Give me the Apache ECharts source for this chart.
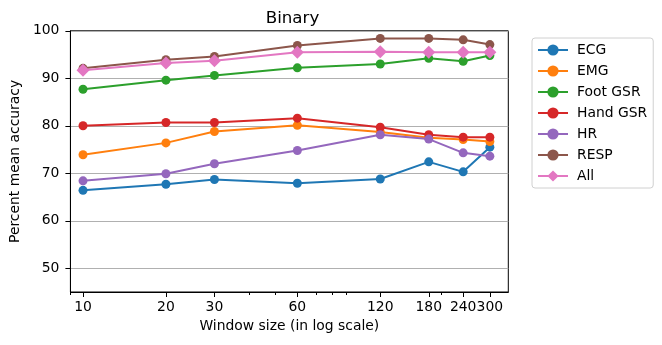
<!DOCTYPE html>
<html>
<head>
<meta charset="utf-8">
<script src="https://cdn.jsdelivr.net/npm/echarts@6/dist/echarts.min.js"></script>
<style>html,body{margin:0;padding:0;background:#fff;}#c{width:662px;height:345px;}</style>
</head>
<body>
<div id="c"></div>
<script>
var windows = [10, 20, 30, 60, 120, 180, 240, 300];
var xTickLabels = [10, 20, 30, 60, 120, 180, 240, 300];
var xMinorTicks = [9, 40, 50, 70, 80, 90, 200];
var yTickLabels = [50, 60, 70, 80, 90, 100];
var seriesNames = ['ECG', 'EMG', 'Foot GSR', 'Hand GSR', 'HR', 'RESP', 'All'];
var ecg     = [66.4, 67.7, 68.7, 67.9, 68.8, 72.4, 70.3, 75.5];
var emg     = [73.9, 76.4, 78.8, 80.1, 78.7, 77.5, 77.1, 76.7];
var footGsr = [87.7, 89.6, 90.6, 92.2, 93.0, 94.2, 93.6, 94.8];
var handGsr = [80.0, 80.7, 80.7, 81.6, 79.7, 78.1, 77.6, 77.6];
var hr      = [68.4, 69.9, 72.0, 74.8, 78.1, 77.2, 74.3, 73.6];
var resp    = [92.1, 93.9, 94.6, 96.9, 98.4, 98.4, 98.1, 97.1];
var allMods = [91.7, 93.2, 93.7, 95.5, 95.6, 95.5, 95.5, 95.5];
var colors = ['#1f77b4', '#ff7f0e', '#2ca02c', '#d62728', '#9467bd', '#8c564b', '#e377c2'];

var values = [ecg, emg, footGsr, handGsr, hr, resp, allMods];
var FONT = 'DejaVu Sans';

function pairs(v) {
  return windows.map(function (w, i) { return [w, v[i]]; });
}

var series = seriesNames.map(function (name, k) {
  var isAll = name === 'All';
  return {
    name: name,
    type: 'line',
    xAxisIndex: 0,
    data: pairs(values[k]),
    symbol: isAll ? 'diamond' : 'circle',
    symbolSize: isAll ? 13 : 9,
    showSymbol: true,
    lineStyle: { color: colors[k], width: 2 },
    itemStyle: { color: colors[k], borderWidth: 0 },
    emphasis: { disabled: true },
    animation: false,
    z: 2 + k
  };
});

var chart = echarts.init(document.getElementById('c'), null, { renderer: 'canvas' });
chart.setOption({
  animation: false,
  backgroundColor: '#fff',
  textStyle: { fontFamily: FONT },
  title: {
    text: 'Binary',
    left: 287.5,
    textAlign: 'center',
    top: 5,
    textStyle: { fontFamily: FONT, fontSize: 16.7, fontWeight: 'normal', color: '#000' }
  },
  grid: {
    left: 66.7, top: 30.8, right: 153.7, bottom: 53,
    show: true, borderColor: '#000', borderWidth: 1, backgroundColor: 'transparent'
  },
  legend: {
    orient: 'vertical',
    left: 532, top: 38,
    padding: [5, 6, 5, 5],
    itemWidth: 30, itemHeight: 14, itemGap: 7,
    borderColor: '#d0d0d0', borderWidth: 1, borderRadius: 3,
    backgroundColor: '#fff',
    textStyle: { fontFamily: FONT, fontSize: 13.9, color: '#000', padding: [0, 0, 0, 4] },
    data: seriesNames
  },
  xAxis: [{
    type: 'log',
    logBase: 10,
    min: 9, max: 350,
    name: 'Window size (in log scale)',
    nameLocation: 'middle',
    nameGap: 27,
    nameTextStyle: { fontFamily: FONT, fontSize: 13.9, color: '#000' },
    axisLine: { show: true, lineStyle: { color: '#000', width: 1 } },
    axisTick: { show: true, inside: false, length: 5, customValues: xTickLabels, lineStyle: { color: '#000' } },
    axisLabel: { show: true, margin: 8, customValues: xTickLabels, fontFamily: FONT, fontSize: 13.9, color: '#000',
      formatter: function (v) { return String(Math.round(v)); } },
    splitLine: { show: false },
    minorTick: { show: false },
    minorSplitLine: { show: false }
  }, {
    type: 'log',
    logBase: 10,
    min: 9, max: 350,
    position: 'bottom',
    offset: 0,
    axisLine: { show: false },
    axisTick: { show: true, length: 3, customValues: xMinorTicks, lineStyle: { color: '#000' } },
    axisLabel: { show: false },
    splitLine: { show: false }
  }],
  yAxis: {
    type: 'value',
    min: 45, max: 100,
    name: 'Percent mean accuracy',
    nameLocation: 'middle',
    nameGap: 44,
    nameTextStyle: { fontFamily: FONT, fontSize: 13.9, color: '#000' },
    axisLine: { show: true, lineStyle: { color: '#000', width: 1 } },
    axisTick: { show: true, length: 5, customValues: yTickLabels, lineStyle: { color: '#000' } },
    axisLabel: { show: true, margin: 11, customValues: yTickLabels, fontFamily: FONT, fontSize: 13.9, color: '#000' },
    splitLine: { show: true, lineStyle: { color: '#b0b0b0', width: 1 } }
  },
  series: series
});
</script>
</body>
</html>
